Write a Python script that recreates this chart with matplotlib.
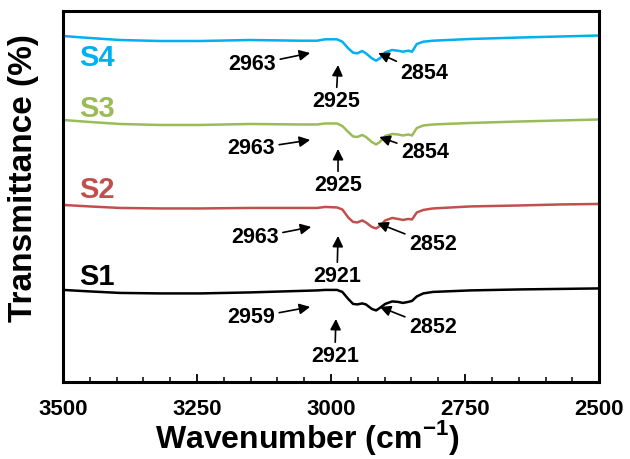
import matplotlib
matplotlib.use("Agg")
import matplotlib.pyplot as plt
from matplotlib.ticker import MultipleLocator

plt.rcParams['font.family'] = ['Liberation Sans', 'DejaVu Sans']
plt.rcParams['font.weight'] = 'bold'
plt.rcParams['mathtext.fontset'] = 'custom'
plt.rcParams['mathtext.rm'] = 'Liberation Sans:bold'
plt.rcParams['mathtext.bf'] = 'Liberation Sans:bold'

# wavenumber grid (cm-1)
wavenumber = [3500, 3450, 3394, 3319, 3244, 3151, 3058, 3026, 3011, 2989, 2979, 2968,
              2959, 2951, 2942, 2935, 2924, 2916, 2909, 2899, 2886, 2875, 2866, 2856,
              2849, 2840, 2828, 2810, 2741, 2647, 2573, 2500]

# stacked transmittance traces (arbitrary units, already offset)
s4 = [346, 344, 342, 341, 341, 342, 341.3, 341.3, 342.7, 342.7, 340.3, 333.7,
      329.3, 328.7, 331, 328.7, 323.7, 321.3, 323.7, 329.7, 332, 331.3, 330.3, 331.3,
      330.3, 338, 340.3, 341.3, 343, 344.5, 345.5, 346.5]
s3 = [262, 260, 258, 257, 257, 258, 257.5, 257.5, 258.5, 258.5, 256, 250,
      245.5, 245, 247, 245, 240, 237.5, 240, 246, 248, 247.5, 246.5, 247.5,
      246.5, 254, 256.5, 257.5, 259, 260.5, 261.5, 262.5]
s2 = [177, 175.5, 174, 173.5, 173.5, 174, 174, 174, 175, 174.5, 172.5, 164.5,
      160, 159.5, 161.5, 159.5, 155, 153.5, 156, 161.5, 164, 163, 162, 163,
      162.5, 169.5, 172, 173.5, 175.5, 176.5, 177.5, 178]
s1 = [92, 90.5, 89, 88.5, 88.5, 89.5, 91, 91.5, 92, 92, 90, 83,
      78, 77.5, 78.5, 77.5, 73, 71.5, 74, 78, 80.5, 80, 79, 80,
      81, 85.5, 88.5, 90, 91.5, 92.5, 93, 93.5]

series = [s1, s2, s3, s4]
names = ['S1', 'S2', 'S3', 'S4']
colors = ['#000000', '#C0504D', '#9BBB59', '#00B0F0']
label_y = [105, 192, 273, 324]

# peak labels: text, arrow tip (wn, y), text position (wn, y)
peak_text = ['2959', '2921', '2852',
             '2963', '2921', '2852',
             '2963', '2925', '2854',
             '2963', '2925', '2854']
peak_tip = [(3039, 75), (2991, 63), (2909, 75),
            (3037, 155), (2987, 146), (2914, 159),
            (3039, 242), (2987, 233), (2910, 245),
            (3039, 329), (2987, 317), (2912, 329)]
peak_pos = [(3149, 64), (2993, 25), (2810, 54),
            (3142, 144), (2989, 105), (2810, 137),
            (3149, 233), (2987, 196), (2825, 229),
            (3147, 317), (2991, 280), (2826, 308)]

fig = plt.figure(figsize=(6.3, 4.59), dpi=100)
ax = fig.add_axes([0.1, 0.168, 0.851, 0.808])

for vals, c in zip(series, colors):
    ax.plot(wavenumber, vals, color=c, lw=1.8)

for name, c, ly in zip(names, colors, label_y):
    ax.text(3437, ly, name, color=c, fontsize=21, fontweight='bold',
            ha='center', va='center')

for t, tip, pos in zip(peak_text, peak_tip, peak_pos):
    ax.annotate(t, xy=tip, xytext=pos, ha='center', va='center',
                fontsize=15.5, fontweight='bold',
                arrowprops=dict(arrowstyle='-|>', color='k', lw=1.2,
                                mutation_scale=16, shrinkA=1, shrinkB=0))

ax.set_xlim(3500, 2500)
ax.set_ylim(0, 371)
ax.xaxis.set_major_locator(MultipleLocator(250))
ax.xaxis.set_minor_locator(MultipleLocator(50))
ax.tick_params(axis='x', which='major', direction='in', length=6, width=1.3,
               labelsize=16, pad=12, top=False)
ax.tick_params(axis='x', which='minor', direction='in', length=3.5, width=1.1, top=False)
ax.set_yticks([])
for sp in ax.spines.values():
    sp.set_linewidth(2.2)

ax.set_xlabel(r'Wavenumber (cm$^{\mathbf{-1}}$)', fontsize=23, fontweight='bold')
ax.xaxis.set_label_coords(0.455, -0.097)
ax.set_ylabel('Transmittance (%)', fontsize=24, fontweight='bold')
ax.yaxis.set_label_coords(-0.045, 0.55)

plt.savefig('out.png', dpi=100)
